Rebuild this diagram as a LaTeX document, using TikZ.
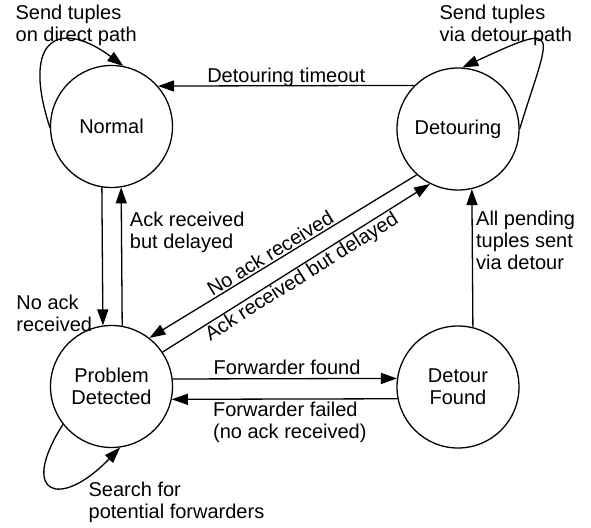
\documentclass[tikz,border=0pt]{standalone}
\usepackage{fontspec}
\setmainfont{Liberation Sans}
\usetikzlibrary{arrows.meta}
\begin{document}
\begin{tikzpicture}[x=1pt,y=-1pt, font=\fontsize{20}{22}\selectfont, line width=1.3pt,
  state/.style={circle, draw, minimum size=122pt, inner sep=0pt, align=center},
  arr/.style={-{Triangle[length=16pt,width=11pt]}},
  rarr/.style={{Triangle[length=16pt,width=11pt]}-},
  lbl/.style={inner sep=0pt, align=left}]
\useasboundingbox (0,0) rectangle (591,527);
\node[state] (N) at (111.5,126.5) {Normal};
\node[state] (D) at (458,129) {Detouring};
\node[state] (P) at (111.5,386.5) {Problem\\Detected};
\node[state] (F) at (458,387) {Detour\\Found};
% self loops
\draw[arr] (N.181) .. controls (20,35) and (62,20) .. (N.79);
\draw[arr] (D.0) .. controls (550,30) and (565,20) .. (D.86);
\draw[arr] (P.218) .. controls (18,495) and (60,510) .. (P.278);
\node[lbl, anchor=north west] (l1) at (15,4) {Send tuples\\on direct path};
\node[lbl, anchor=north west] (l2) at (439,4) {Send tuples\\via detour path};
\node[lbl, anchor=north west] (l3) at (88,481.5) {Search for\\potential forwarders};
% transitions
\draw[arr] (D.135.6) -- node[pos=0.5, anchor=base, yshift=3pt, inner sep=0pt] {Detouring timeout} (N.41.2);
\draw[arr] (N.261.1) -- node[pos=0.775, anchor=north east, xshift=-10pt, lbl]{No ack\\received} (P.98.9);
\draw[arr] (P.80.2) -- node[pos=0.83, anchor=north west, xshift=8pt, lbl]{Ack received\\but delayed} (N.279.8);
\draw[rarr] (P.52) -- node[pos=0.47, sloped, above, inner sep=1.5pt]{No ack received} (D.228);
\draw[arr] (P.34) -- node[pos=0.5, sloped, below, inner sep=1pt]{Ack received but delayed} (D.243);
\draw[arr] (P.7) -- node[pos=0.51, anchor=base, yshift=4pt, inner sep=0pt]{Forwarder found} (F.172.5);
\draw[arr] (F.191.2) -- node[pos=0.477, anchor=north, yshift=-2.5pt, lbl]{Forwarder failed\\(no ack received)} (P.348.3);
\draw[arr] (F.76.8) -- node[pos=0.847, anchor=north west, xshift=3.5pt, lbl]{All pending\\tuples sent\\via detour} (D.283.2);
\end{tikzpicture}
\end{document}
